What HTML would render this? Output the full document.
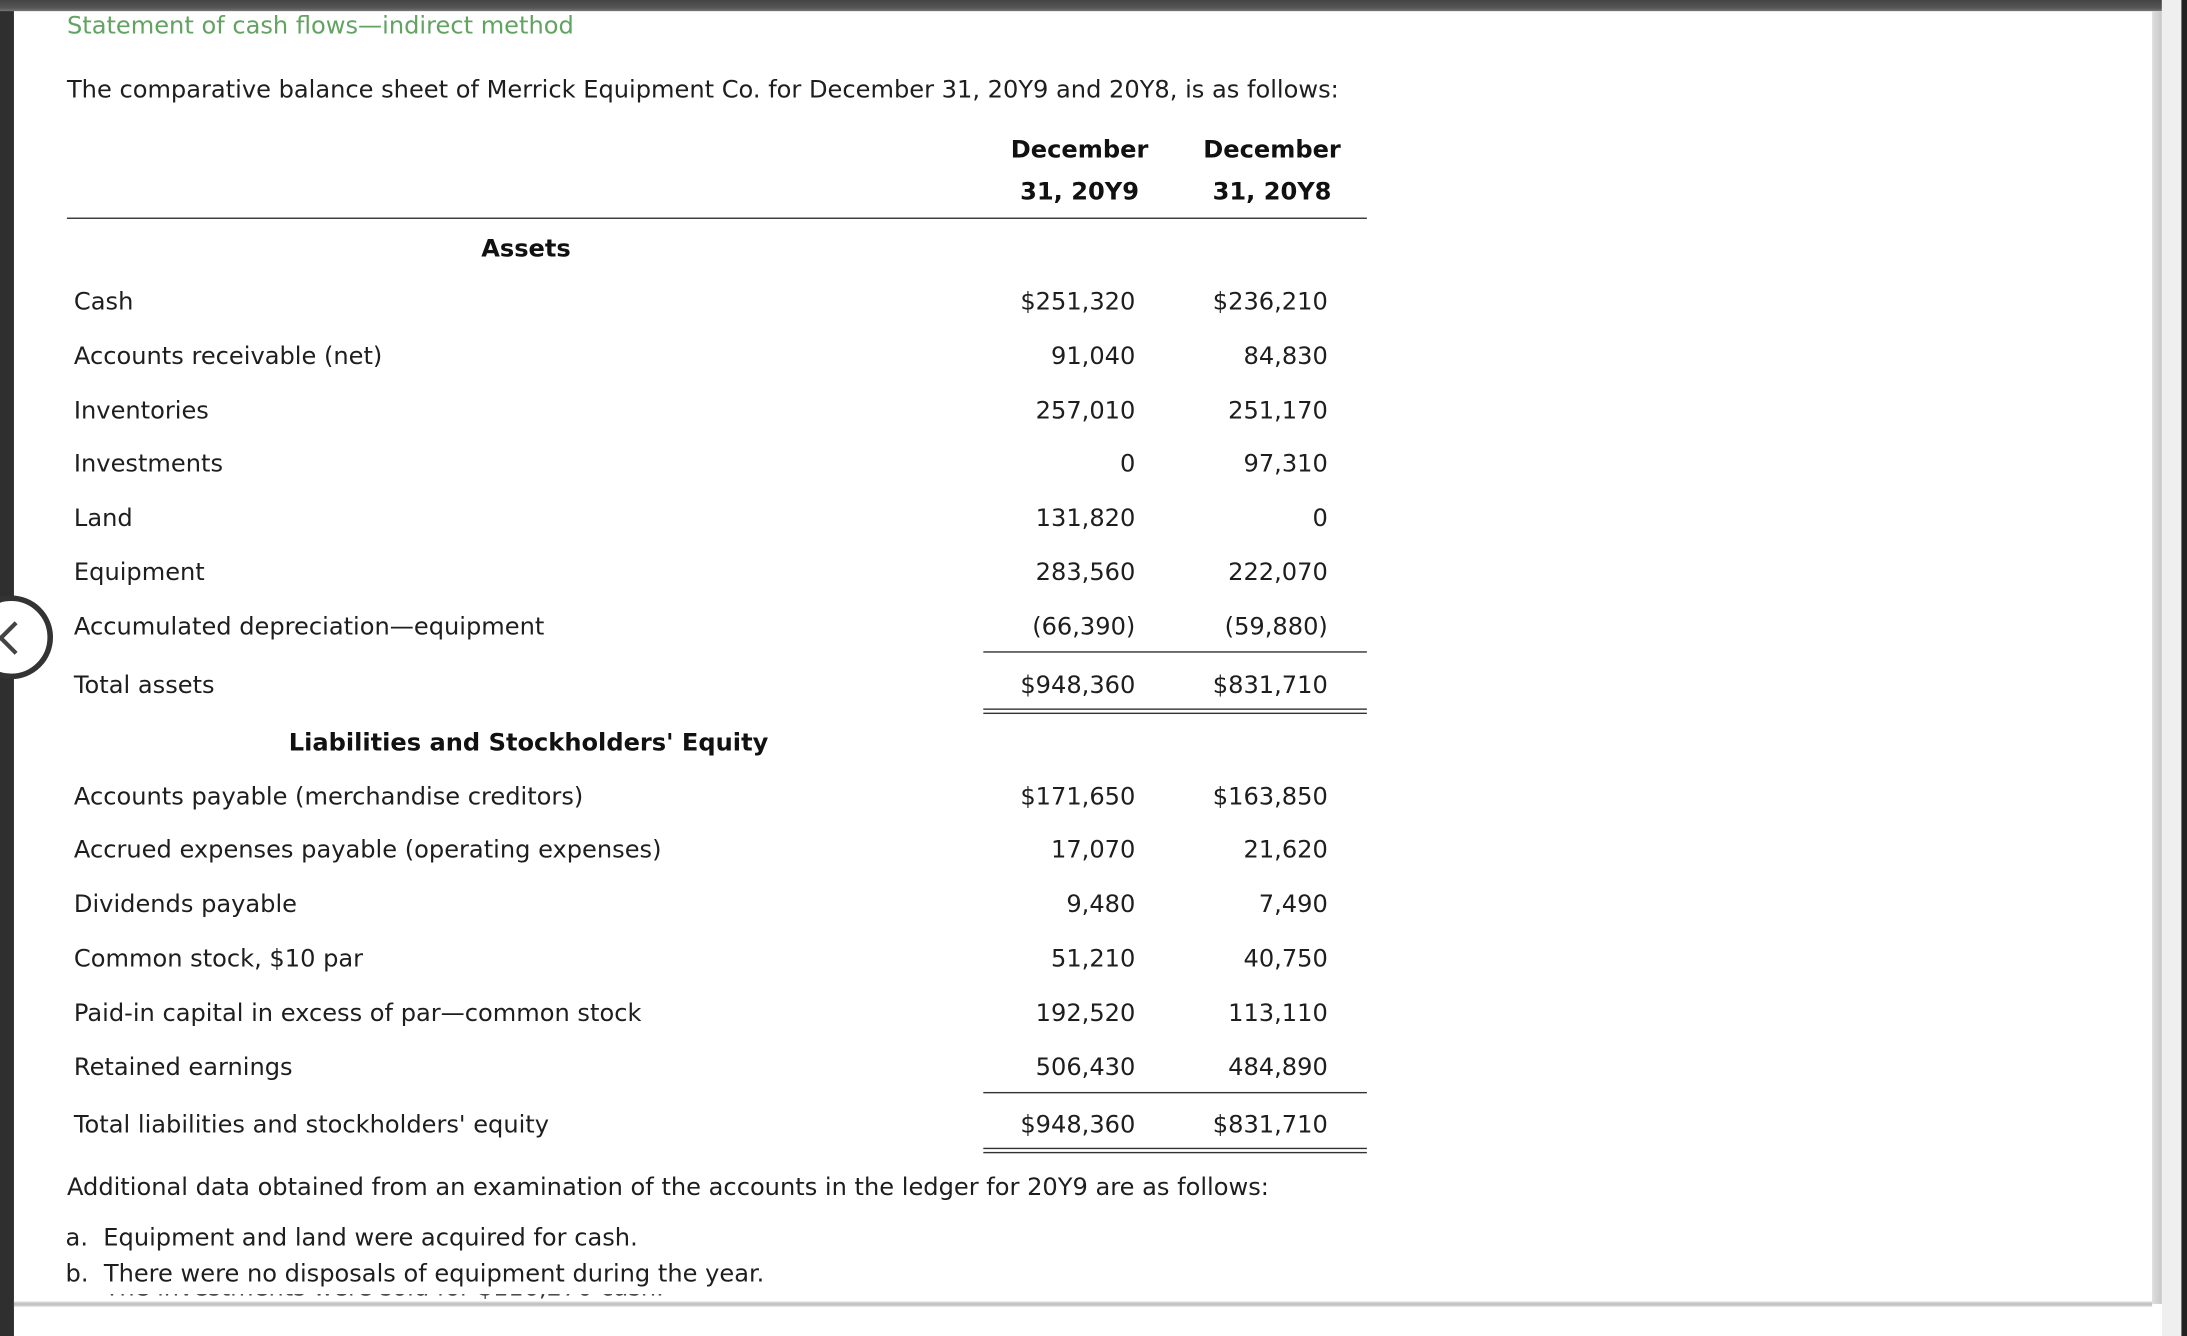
<!DOCTYPE html>
<html><head><meta charset="utf-8">
<style>
html,body{margin:0;padding:0;width:2187px;height:1336px;overflow:hidden;background:#fff}
#s{position:absolute;left:0;top:0;width:1568px;height:958px;transform:scale(1.39477,1.39457);transform-origin:0 0;font-family:"DejaVu Sans","Liberation Sans",sans-serif;font-size:17.3px;color:#1e1e1e}
.t{position:absolute;line-height:20px;white-space:nowrap}
.r{text-align:right}
.b{font-weight:bold;color:#111}
.ln{position:absolute;height:0;border-top:1.5px solid #333}
</style></head><body>
<div id="s">
<div style="position:absolute;left:0;top:0;width:10px;height:958px;background:#2f2f2f"></div>
<div style="position:absolute;left:0;top:0;width:1550px;height:8px;background:linear-gradient(#444,#555 70%,#777)"></div>
<div style="position:absolute;left:1543px;top:8px;width:7px;height:927px;background:linear-gradient(90deg,#ddd,#c8c8c8)"></div>
<div style="position:absolute;left:1550px;top:0;width:14px;height:958px;background:#efefef"></div>
<div style="position:absolute;left:1564px;top:0;width:4px;height:958px;background:#222"></div>
<div style="position:absolute;left:10px;top:933px;width:1533px;height:4px;background:linear-gradient(#eee,#bbb,#ddd)"></div>
<div style="position:absolute;left:-22px;top:427px;width:52px;height:52px;border:4px solid #333;border-radius:50%;background:#fff"><div style="position:absolute;left:20px;top:18px;width:14px;height:14px;border-left:3.5px solid #444;border-bottom:3.5px solid #444;transform:rotate(45deg)"></div></div>
<div style="position:absolute;left:75px;top:928px;width:400px;height:5px;overflow:hidden;color:#333"><div class="t" style="top:-14px;left:0">The investments were sold for $116,270 cash.</div></div>

<div class="t" style="left:48px;top:9px;color:#62a362">Statement of cash flows—indirect method</div>
<div class="t" style="left:48px;top:55px">The comparative balance sheet of Merrick Equipment Co. for December 31, 20Y9 and 20Y8, is as follows:</div>
<div class="t b" style="left:704px;width:140px;text-align:center;top:98px">December</div>
<div class="t b" style="left:704px;width:140px;text-align:center;top:128px">31, 20Y9</div>
<div class="t b" style="left:842px;width:140px;text-align:center;top:98px">December</div>
<div class="t b" style="left:842px;width:140px;text-align:center;top:128px">31, 20Y8</div>
<div class="ln" style="left:48px;top:156px;width:932px"></div>
<div class="t b" style="left:345px;top:169px">Assets</div>
<div class="t b" style="left:207px;top:523px">Liabilities and Stockholders' Equity</div>

<div id="rows"></div>
<div class="ln" style="left:705px;top:467px;width:275px"></div>
<div class="ln" style="left:705px;top:508px;width:275px"></div>
<div class="ln" style="left:705px;top:511px;width:275px"></div>
<div class="ln" style="left:705px;top:783px;width:275px"></div>
<div class="ln" style="left:705px;top:823px;width:275px"></div>
<div class="ln" style="left:705px;top:826px;width:275px"></div>

<div class="t" style="left:48px;top:842px">Additional data obtained from an examination of the accounts in the ledger for 20Y9 are as follows:</div>
<div class="t" style="left:47px;top:878px">a.&nbsp; Equipment and land were acquired for cash.</div>
<div class="t" style="left:47px;top:904px">b.&nbsp; There were no disposals of equipment during the year.</div>
</div>
<script>
const labels=["Cash","Accounts receivable (net)","Inventories","Investments","Land","Equipment","Accumulated depreciation—equipment","Total assets","Accounts payable (merchandise creditors)","Accrued expenses payable (operating expenses)","Dividends payable","Common stock, $10 par","Paid-in capital in excess of par—common stock","Retained earnings","Total liabilities and stockholders' equity"];
const y9=["$251,320","91,040","257,010","0","131,820","283,560","(66,390)","$948,360","$171,650","17,070","9,480","51,210","192,520","506,430","$948,360"];
const y8=["$236,210","84,830","251,170","97,310","0","222,070","(59,880)","$831,710","$163,850","21,620","7,490","40,750","113,110","484,890","$831,710"];
const ys=[217,256,295,333,372,411,450,492,572,610,649,688,727,766,807];
const c=document.getElementById('rows');
labels.forEach((l,i)=>{
 const row=document.createElement('div');
 
 
 const a=document.createElement('div');a.className='t';a.style.left='53px';a.style.top=(ys[i]-10)+'px';a.textContent=l;
 
 
 const b=document.createElement('div');b.className='t r';b.style.left='614px';b.style.width='200px';b.style.top=(ys[i]-10)+'px';b.textContent=y9[i];
 
 
 const d=document.createElement('div');d.className='t r';d.style.left='752px';d.style.width='200px';d.style.top=(ys[i]-10)+'px';d.textContent=y8[i];
 
 
 row.append(a,b,d);c.appendChild(row);
});
</script>
</body></html>
